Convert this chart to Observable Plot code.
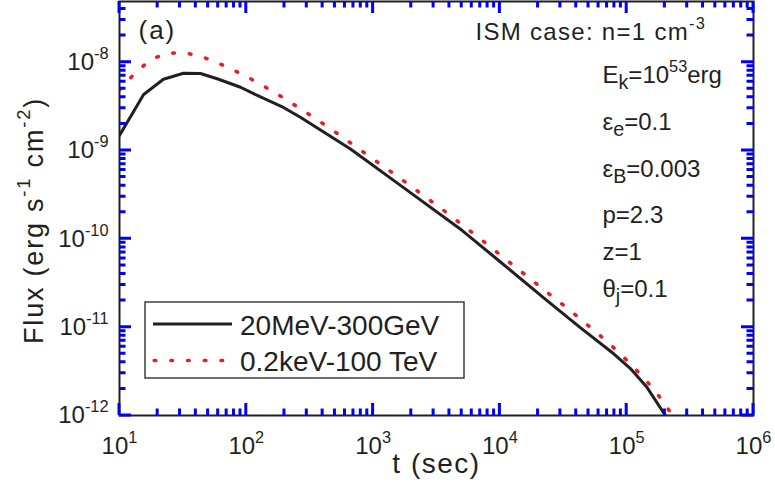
<!DOCTYPE html>
<html>
<head>
<meta charset="utf-8">
<script src="https://cdn.jsdelivr.net/npm/d3@7"></script>
<script src="https://cdn.jsdelivr.net/npm/@observablehq/plot@0.6"></script>
<style>
  html, body { margin: 0; padding: 0; background: #ffffff; }
  #chart { width: 775px; height: 486px; }
</style>
</head>
<body>
<div id="chart"></div>
<script>
// ---------------- data ----------------
const seriesNames = ["20MeV-300GeV", "0.2keV-100 TeV"];

// 20MeV-300GeV (solid black)
const tBlack = [10, 15.5, 22.2, 32, 43.5, 58.9, 90, 108, 198, 267, 663, 1644, 5050, 10100, 23550, 43300, 79000, 107000, 145000, 202000];
const fluxBlack = [1.48e-9, 4.31e-9, 6.41e-9, 7.5e-9, 7.45e-9, 6.49e-9, 5.2e-9, 4.57e-9, 3.05e-9, 2.38e-9, 1.04e-9, 4.03e-10, 1.24e-10, 5.47e-11, 2.0e-11, 9.8e-12, 5.0e-12, 3.4e-12, 2.07e-12, 1.0e-12];

// 0.2keV-100 TeV (red dotted)
const tRed = [10, 13.4, 17.8, 23.9, 32.6, 44, 59.3, 80.7, 108, 146, 198, 267, 362, 490, 663, 1644, 4070, 7380, 13500, 24800, 33500, 45600, 61800, 83100, 112500, 146700, 188000, 231000];
const fluxRed = [4.86e-9, 7.64e-9, 1.08e-8, 1.26e-8, 1.28e-8, 1.16e-8, 9.84e-9, 8.05e-9, 6.49e-9, 5.08e-9, 3.91e-9, 2.97e-9, 2.23e-9, 1.66e-9, 1.22e-9, 4.82e-10, 1.84e-10, 9.4e-11, 4.7e-11, 2.34e-11, 1.67e-11, 1.16e-11, 8.03e-12, 5.47e-12, 3.58e-12, 2.36e-12, 1.53e-12, 9.9e-13];

// axes
const xTickValues = [1e1, 1e2, 1e3, 1e4, 1e5, 1e6];
const xTickLabels = ["10^{1}", "10^{2}", "10^{3}", "10^{4}", "10^{5}", "10^{6}"];
const yTickValues = [1e-12, 1e-11, 1e-10, 1e-9, 1e-8];
const yTickLabels = ["10^{-12}", "10^{-11}", "10^{-10}", "10^{-9}", "10^{-8}"];
const xDomain = [10, 1e6];
const yDomain = [1e-12, 4.86e-8];

// texts
const xTitle = "t (sec)";
const yTitle = "Flux (erg s^{-1} cm^{-2})";
const panelLabel = "(a)";
const caseLabel = "ISM case: n=1 cm^{-3}";
const paramLabels = ["E_{k}=10^{53}erg", "ε_{e}=0.1", "ε_{B}=0.003", "p=2.3", "z=1", "θ_{j}=0.1"];

// ---------------- rendering ----------------
const ink = "#231f20";
const redInk = "#ed1c24";
const redDash = "1.6 15.1";
const font = "'Liberation Sans', Arial, Helvetica, sans-serif";

const W = 775, H = 486;
const M = {left: 119, right: 22, top: 1, bottom: 71};

const blackData = tBlack.map((t, i) => ({t, flux: fluxBlack[i]}));
const redData = tRed.map((t, i) => ({t, flux: fluxRed[i]}));

function minorTicks([lo, hi]) {
  const out = [];
  for (let e = Math.floor(Math.log10(lo)); e <= Math.ceil(Math.log10(hi)); e++) {
    for (let k = 2; k <= 9; k++) {
      const v = k * Math.pow(10, e);
      if (v > lo && v < hi) out.push(v);
    }
  }
  return out;
}
const xMinor = minorTicks(xDomain);
const yMinor = minorTicks(yDomain);
const xLabelOf = d => xTickLabels[xTickValues.findIndex(v => Math.abs(Math.log10(v) - Math.log10(d)) < 1e-6)];
const yLabelOf = d => yTickLabels[yTickValues.findIndex(v => Math.abs(Math.log10(v) - Math.log10(d)) < 1e-6)];

const paramBaselines = [82, 129, 176, 222.7, 259.3, 296];

const chart = Plot.plot({
  width: W,
  height: H,
  marginLeft: M.left,
  marginRight: M.right,
  marginTop: M.top,
  marginBottom: M.bottom,
  style: {fontFamily: font, color: ink, background: "#ffffff", overflow: "visible"},
  x: {type: "log", domain: xDomain},
  y: {type: "log", domain: yDomain},
  marks: [
    Plot.line(redData, {x: "t", y: "flux", stroke: redInk, strokeWidth: 3.6, strokeDasharray: redDash, strokeLinecap: "round", clip: true}),
    Plot.line(blackData, {x: "t", y: "flux", stroke: ink, strokeWidth: 3, strokeLinejoin: "round", clip: true}),
    Plot.axisX({anchor: "bottom", ticks: xTickValues, tickSize: 0, tickPadding: 21, tickFormat: xLabelOf, label: null, fontSize: 24, fill: ink}),
    Plot.axisY({anchor: "left", ticks: yTickValues, tickSize: 0, tickPadding: 11, tickFormat: yLabelOf, label: null, fontSize: 24, fill: ink}),
    Plot.frame({stroke: ink, strokeWidth: 2}),
    Plot.text([xTitle], {text: d => d, frameAnchor: "bottom", dy: 57, textAnchor: "middle", lineAnchor: "bottom", fontSize: 28, fill: ink}),
    Plot.text([yTitle], {text: d => d, frameAnchor: "left", dx: -77, dy: 12, rotate: -90, textAnchor: "middle", lineAnchor: "bottom", fontSize: 27, fill: ink}),
    Plot.text([panelLabel], {text: d => d, frameAnchor: "top-left", dx: 19, dy: 37, textAnchor: "start", lineAnchor: "bottom", fontSize: 26, fill: ink}),
    Plot.text([caseLabel], {text: d => d, frameAnchor: "top-left", dx: 356, dy: 38.5, textAnchor: "start", lineAnchor: "bottom", fontSize: 24, fill: ink}),
    ...paramLabels.map((s, i) => Plot.text([s], {text: d => d, frameAnchor: "top-left", dx: 483, dy: paramBaselines[i] - 1, textAnchor: "start", lineAnchor: "bottom", fontSize: 24, fill: ink}))
  ]
});

document.getElementById("chart").appendChild(chart);
const svg = d3.select(chart);

// ---------------- legend ----------------
const lg = svg.append("g").attr("font-family", font).attr("fill", ink).attr("text-anchor", "start");
lg.append("rect").attr("x", 145).attr("y", 302).attr("width", 319).attr("height", 76)
  .attr("fill", "#ffffff").attr("stroke", ink).attr("stroke-width", 1.3);
lg.append("line").attr("x1", 153).attr("x2", 232).attr("y1", 324).attr("y2", 324)
  .attr("stroke", ink).attr("stroke-width", 3);
lg.append("line").attr("x1", 154.2).attr("x2", 226).attr("y1", 360.5).attr("y2", 360.5)
  .attr("stroke", redInk).attr("stroke-width", 3.6).attr("stroke-dasharray", redDash).attr("stroke-linecap", "round");
lg.append("text").attr("x", 240).attr("y", 335).attr("font-size", 28).attr("text-anchor", "start").text(seriesNames[0]);
lg.append("text").attr("x", 240).attr("y", 371).attr("font-size", 28).attr("text-anchor", "start").text(seriesNames[1]);

// ---------------- rich text ----------------
const SUP_SIZE = 0.68, SUP_RAISE = 0.45, SUB_SIZE = 0.82, SUB_DROP = 0.28;
const spacing = new Map([[yTitle, "1.8px"], [xTitle, "1.5px"], [caseLabel, "1.3px"], [panelLabel, "2px"]]);
function richText(el) {
  const s = el.textContent;
  if (spacing.has(s)) el.style.letterSpacing = spacing.get(s);
  if (!/[\^_]\{/.test(s)) return;
  const parts = [];
  const re = /([\^_])\{([^}]*)\}/g;
  let last = 0, m;
  while ((m = re.exec(s))) {
    if (m.index > last) parts.push({t: s.slice(last, m.index), k: 0});
    parts.push({t: m[2], k: m[1] === "^" ? 1 : -1});
    last = re.lastIndex;
  }
  if (last < s.length) parts.push({t: s.slice(last), k: 0});
  el.textContent = "";
  let shift = 0;
  for (const p of parts) {
    const ts = document.createElementNS("http://www.w3.org/2000/svg", "tspan");
    const target = p.k === 1 ? SUP_RAISE : p.k === -1 ? -SUB_DROP : 0;
    const size = p.k === 1 ? SUP_SIZE : p.k === -1 ? SUB_SIZE : 1;
    const delta = shift - target;
    if (Math.abs(delta) > 1e-9) ts.setAttribute("dy", (delta / size).toFixed(3) + "em");
    if (size !== 1) ts.setAttribute("font-size", (size * 100) + "%");
    ts.textContent = p.t;
    el.appendChild(ts);
    shift = target;
  }
}
svg.selectAll("text").each(function () { richText(this); });

// ---------------- inward ticks (test colour), positioned with Plot's scales ----------------
const sx = chart.scale("x"), sy = chart.scale("y");
const X0 = sx.apply(xDomain[0]), X1 = sx.apply(xDomain[1]);
const Y0 = sy.apply(yDomain[0]), Y1 = sy.apply(yDomain[1]);
const majorLen = 12, minorLen = 6.5;
let dPath = "";
const addX = (vals, len) => vals.forEach(v => { const p = sx.apply(v); dPath += `M${p},${Y0}V${Y0 - len}M${p},${Y1}V${Y1 + len}`; });
const addY = (vals, len) => vals.forEach(v => { const p = sy.apply(v); dPath += `M${X0},${p}H${X0 + len}M${X1},${p}H${X1 - len}`; });
addX(xTickValues, majorLen); addX(xMinor, minorLen);
addY(yTickValues, majorLen); addY(yMinor, minorLen);
svg.append("path").attr("d", dPath).attr("fill", "none").attr("stroke", "#0000ff").attr("stroke-width", 3);
</script>
</body>
</html>
